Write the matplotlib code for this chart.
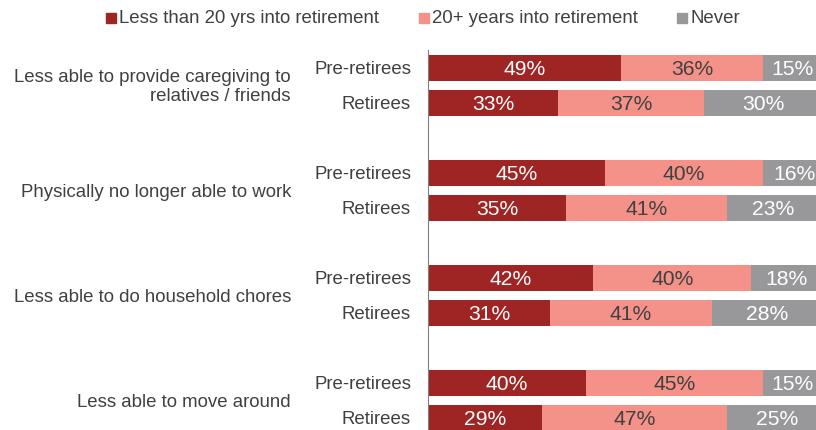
import matplotlib.pyplot as plt
from matplotlib.patches import Rectangle
import numpy as np

plt.rcParams['font.family'] = ['Liberation Sans', 'DejaVu Sans']

questions = ['Less able to provide caregiving to\nrelatives / friends',
             'Physically no longer able to work',
             'Less able to do household chores',
             'Less able to move around']
groups = ['Pre-retirees', 'Retirees']

# rows: q1 pre, q1 ret, q2 pre, q2 ret, ...
less20 = [49, 33, 45, 35, 42, 31, 40, 29]
over20 = [36, 37, 40, 41, 40, 41, 45, 47]
never = [15, 30, 16, 23, 18, 28, 15, 25]

series = ['Less than 20 yrs into retirement', '20+ years into retirement', 'Never']
colors = ['#9E2523', '#F4928A', '#98989B']
text_colors = ['white', '#404040', 'white']

W, H = 816, 430
fig = plt.figure(figsize=(W / 100, H / 100), dpi=100)
ax = fig.add_axes([428 / W, 0, 394 / W, 380 / H])

ypos = []
for i in range(len(questions)):
    ypos += [3 * i, 3 * i + 1]
ypos = np.array(ypos)

left = np.zeros(len(ypos))
for vals, c, tc, name in zip([less20, over20, never], colors, text_colors, series):
    vals = np.array(vals)
    ax.barh(ypos, vals, left=left, height=0.72, color=c, label=name)
    for y, l, v in zip(ypos, left, vals):
        ax.text(l + v / 2, y + 0.03, f'{v}%', ha='center', va='center',
                color=tc, fontsize=15.2)
    left = left + vals

for i, q in enumerate(questions):
    ax.text(-34.8, 3 * i + 0.55, q, ha='right', va='center', fontsize=13.4,
            color='#404040', clip_on=False, linespacing=1.18)
for k, y in enumerate(ypos):
    ax.text(-4.3, y + 0.05, groups[k % 2], ha='right', va='center', fontsize=13.4,
            color='#404040', clip_on=False)

ax.set_xlim(0, 100)
ax.set_ylim(10.34, -0.514)
for s in ['top', 'right', 'bottom']:
    ax.spines[s].set_visible(False)
ax.spines['left'].set_color('#808080')
ax.set_xticks([])
ax.set_yticks([])

# legend drawn by hand to match the spacing of the original
sq_x = [106, 419, 677]
for x0, c, name in zip(sq_x, colors, series):
    fig.patches.append(Rectangle((x0 / W, 1 - 23 / H), 10 / W, 10 / H,
                                 color=c, transform=fig.transFigure))
    fig.text((x0 + 13) / W, 1 - 18.5 / H, name, ha='left', va='center',
             fontsize=13.4, color='#404040')

fig.savefig('out.png', dpi=100)
